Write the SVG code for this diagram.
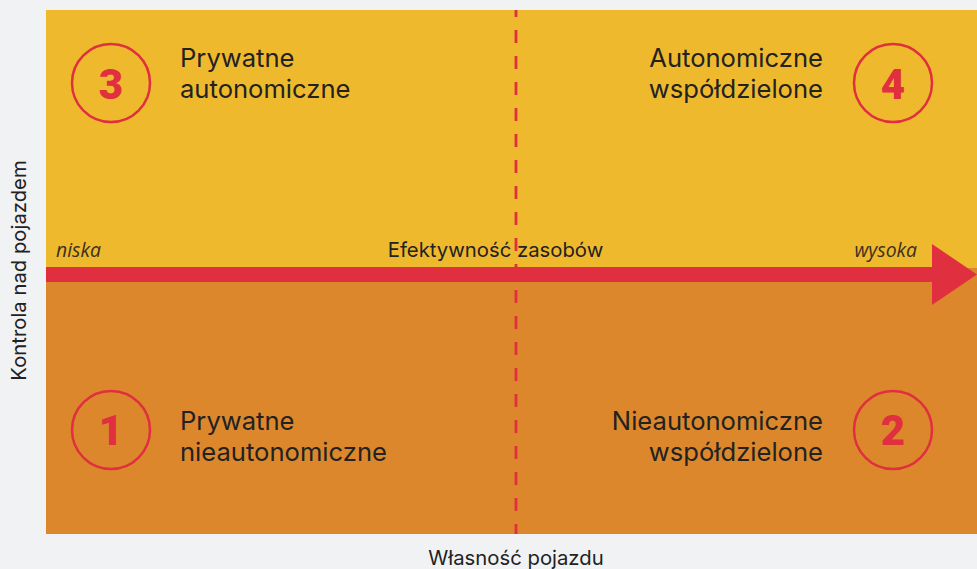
<svg xmlns="http://www.w3.org/2000/svg" width="977" height="569" viewBox="0 0 977 569">
<style>
.lbl{font-family:Inter,"Noto Sans","Liberation Sans",sans-serif;font-size:25.6px;fill:#222}
.ax{font-family:Inter,"Noto Sans","Liberation Sans",sans-serif;font-size:20.3px;fill:#222}
.it{font-family:"Open Sans","Noto Sans","Liberation Sans",sans-serif;font-style:italic;font-size:19.4px;fill:#3a3020}
.num{font-family:Roboto,"Liberation Sans",sans-serif;font-weight:900;font-size:42px;fill:#e0303f;text-anchor:middle}
.ring{fill:none;stroke:#e0303f;stroke-width:2.5}
</style>
<rect x="0" y="0" width="977" height="569" fill="#f1f2f4"/>
<rect x="46" y="10" width="931" height="258" fill="#efb92e"/>
<rect x="46" y="268" width="931" height="266" fill="#dc872b"/>
<g id="connectors">
<rect x="46" y="267" width="890" height="15" fill="#e0303f"/>
<polygon points="932,244 977,274.5 932,305" fill="#e0303f"/>
<line x1="516" y1="10" x2="516" y2="534" stroke="#e0303f" stroke-width="2.8" stroke-dasharray="13 13" stroke-dashoffset="6"/>
</g>
<g id="axis-labels">
<text class="it" x="56" y="257">niska</text>
<text class="it" x="917" y="257" text-anchor="end">wysoka</text>
<text class="ax" x="495.5" y="257" text-anchor="middle">Efektywność zasobów</text>
<text class="ax" x="516" y="565" text-anchor="middle">Własność pojazdu</text>
<text class="ax" transform="translate(26,270.5) rotate(-90)" text-anchor="middle">Kontrola nad pojazdem</text>
</g>
<g id="q3">
<circle class="ring" cx="111" cy="83" r="39"/>
<text class="num" x="111" y="99">3</text>
<text class="lbl" x="180" y="67">Prywatne</text>
<text class="lbl" x="180" y="98">autonomiczne</text>
</g>
<g id="q4">
<circle class="ring" cx="893" cy="83" r="39"/>
<text class="num" x="893" y="99">4</text>
<text class="lbl" x="823" y="67" text-anchor="end">Autonomiczne</text>
<text class="lbl" x="823" y="98" text-anchor="end">współdzielone</text>
</g>
<g id="q1">
<circle class="ring" cx="111" cy="430" r="39"/>
<text class="num" x="111" y="445">1</text>
<text class="lbl" x="180" y="430">Prywatne</text>
<text class="lbl" x="180" y="461">nieautonomiczne</text>
</g>
<g id="q2">
<circle class="ring" cx="893" cy="430" r="39"/>
<text class="num" x="893" y="445">2</text>
<text class="lbl" x="823" y="430" text-anchor="end">Nieautonomiczne</text>
<text class="lbl" x="823" y="461" text-anchor="end">współdzielone</text>
</g>
</svg>
